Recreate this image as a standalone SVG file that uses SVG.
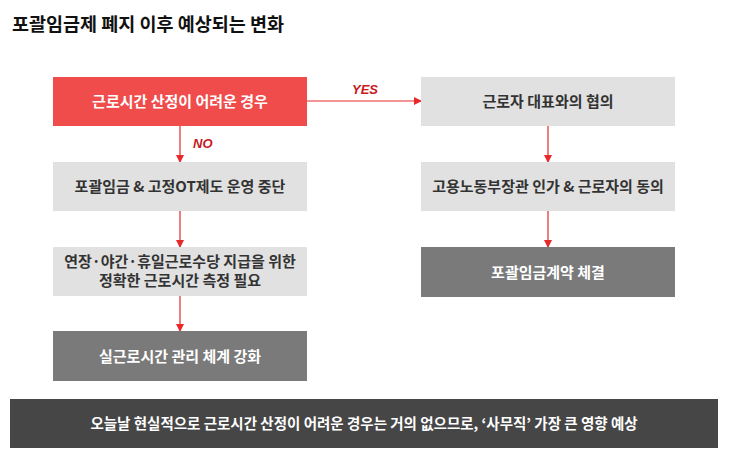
<svg xmlns="http://www.w3.org/2000/svg" width="731" height="459" viewBox="0 0 731 459">
<style>
text{font-family:"Noto Sans CJK KR","Noto Sans",sans-serif;font-weight:bold;text-anchor:middle}
.t{font-size:15px}
.dk{fill:#333333}
.wh{fill:#ffffff}
.lbl{font-family:"Liberation Sans",Arial,sans-serif;font-style:italic;font-size:13px;fill:#c8191e;text-anchor:start}
.c{stroke:#e8282a;stroke-width:1.2;fill:none}
</style>
<defs>
<marker id="ah" markerWidth="8" markerHeight="8" refX="7" refY="4" orient="auto" markerUnits="userSpaceOnUse">
<path d="M0,0 L8,4 L0,8 Z" fill="#e8282a"/>
</marker>
</defs>
<text x="12" y="31" style="font-size:18.5px;text-anchor:start;fill:#111111">포괄임금제 폐지 이후 예상되는 변화</text>
<g id="connectors">
<line class="c" x1="307" y1="101" x2="421" y2="101" marker-end="url(#ah)"/>
<line class="c" x1="180" y1="126" x2="180" y2="162" marker-end="url(#ah)"/>
<line class="c" x1="180" y1="211" x2="180" y2="247" marker-end="url(#ah)"/>
<line class="c" x1="180" y1="296" x2="180" y2="331" marker-end="url(#ah)"/>
<line class="c" x1="548" y1="126" x2="548" y2="162" marker-end="url(#ah)"/>
<line class="c" x1="548" y1="211" x2="548" y2="247" marker-end="url(#ah)"/>
<text class="lbl" x="352" y="94">YES</text>
<text class="lbl" x="193" y="148">NO</text>
</g>
<g id="n1"><rect x="53" y="77" width="254" height="49" fill="#ef4c4b"/><text class="t wh" x="180" y="107">근로시간 산정이 어려운 경우</text></g>
<g id="n2"><rect x="53" y="162" width="254" height="49" fill="#e1e1e1"/><text class="t dk" x="180" y="192">포괄임금 &amp; 고정OT제도 운영 중단</text></g>
<g id="n3"><rect x="53" y="247" width="254" height="49" fill="#e1e1e1"/><text class="t dk" x="180" y="267">연장·야간·휴일근로수당 지급을 위한</text><text class="t dk" x="180" y="286">정확한 근로시간 측정 필요</text></g>
<g id="n4"><rect x="53" y="331" width="254" height="50" fill="#7a7a7a"/><text class="t wh" x="180" y="362">실근로시간 관리 체계 강화</text></g>
<g id="n5"><rect x="421" y="77" width="254" height="49" fill="#e1e1e1"/><text class="t dk" x="548" y="107">근로자 대표와의 협의</text></g>
<g id="n6"><rect x="421" y="162" width="254" height="49" fill="#e1e1e1"/><text class="t dk" x="548" y="192">고용노동부장관 인가 &amp; 근로자의 동의</text></g>
<g id="n7"><rect x="421" y="247" width="254" height="50" fill="#7a7a7a"/><text class="t wh" x="548" y="278">포괄임금계약 체결</text></g>
<g id="banner"><rect x="10" y="399" width="708" height="49" fill="#464646"/><text class="t wh" x="364" y="429" style="font-size:14.5px">오늘날 현실적으로 근로시간 산정이 어려운 경우는 거의 없으므로, ‘사무직’ 가장 큰 영향 예상</text></g>
</svg>
